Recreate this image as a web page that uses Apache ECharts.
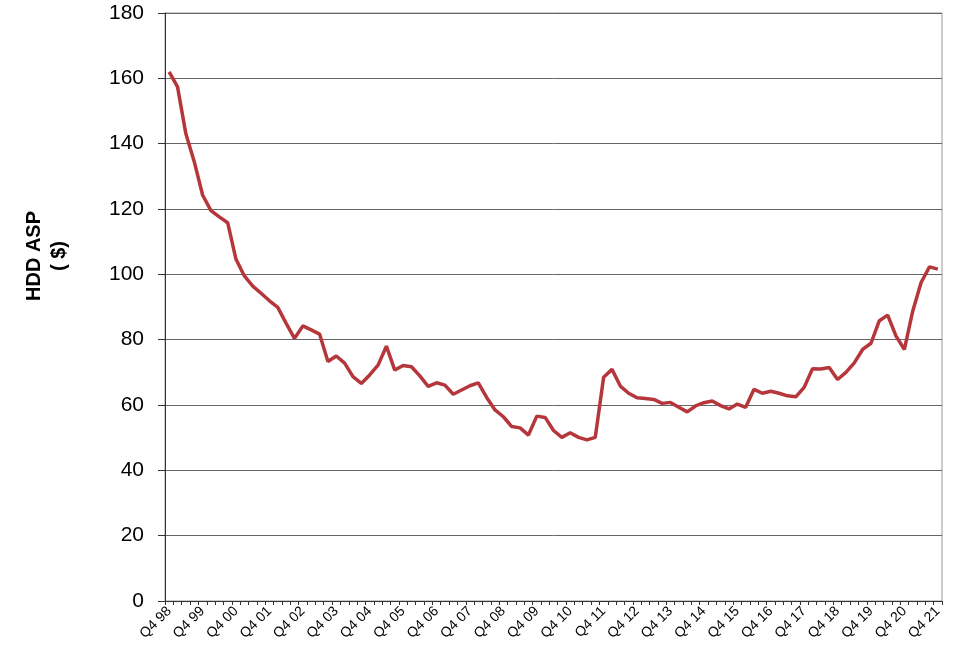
<!DOCTYPE html>
<html>
<head>
<meta charset="utf-8">
<script src="https://cdn.jsdelivr.net/npm/echarts@6/dist/echarts.min.js"></script>
<style>html,body{margin:0;padding:0;background:#fff}#c{width:964px;height:669px}</style>
</head>
<body>
<div id="c"></div>
<script>
// Quarter labels Q4 98 .. Q4 21
const firstYear = 1998, lastYear = 2021;
const categories = [];
for (let y = firstYear; y <= lastYear; y++) {
  const qs = (y === firstYear) ? [4] : [1, 2, 3, 4];
  for (const q of qs) categories.push('Q' + q + ' ' + String(y % 100).padStart(2, '0'));
}
const yTicks = [0, 20, 40, 60, 80, 100, 120, 140, 160, 180];
const asp = [
  162.0, 157.4, 143.0, 134.5, 124.3, 119.5, 117.6, 115.8, 104.6, 99.5,
  96.4, 94.2, 91.9, 89.9, 85.0, 80.4, 84.2, 83.0, 81.7, 73.3,
  75.0, 72.8, 68.7, 66.6, 69.2, 72.2, 78.0, 70.7, 72.1, 71.7,
  68.9, 65.7, 66.8, 66.1, 63.3, 64.6, 65.9, 66.8, 62.3, 58.5,
  56.4, 53.4, 53.0, 50.8, 56.6, 56.2, 52.2, 50.1, 51.5, 50.1,
  49.3, 50.1, 68.5, 70.9, 65.8, 63.6, 62.2, 62.0, 61.7, 60.5,
  60.8, 59.3, 57.9, 59.7, 60.7, 61.2, 59.8, 58.8, 60.3, 59.3,
  64.8, 63.6, 64.2, 63.6, 62.8, 62.5, 65.4, 71.1, 71.0, 71.5,
  67.8, 70.0, 72.9, 77.0, 78.9, 85.8, 87.5, 81.1, 77.0, 88.8,
  97.5, 102.3, 101.6
];
const chart = echarts.init(document.getElementById('c'), null, {renderer: 'canvas'});
chart.setOption({
  animation: false,
  backgroundColor: '#fff',
  grid: {left: 165, right: 22, top: 13, bottom: 68, show: true, borderColor: '#999', borderWidth: 1},
  graphic: [{
    type: 'text', x: 47, y: 256, rotation: Math.PI / 2,
    style: {text: 'HDD ASP\n( $)', font: 'bold 20px "Liberation Sans", Arial, sans-serif', fill: '#000',
      align: 'center', verticalAlign: 'middle', lineHeight: 25}
  }],
  xAxis: {
    type: 'category', data: categories, boundaryGap: true,
    axisLine: {lineStyle: {color: '#333', width: 1}},
    axisTick: {show: true, interval: 0, length: 4, lineStyle: {color: '#333'}},
    axisLabel: {interval: 3, rotate: 45, margin: 8, fontSize: 14, color: '#000',
      fontFamily: '"Liberation Sans", Arial, sans-serif'},
    splitLine: {show: false}
  },
  yAxis: {
    type: 'value', min: yTicks[0], max: yTicks[yTicks.length - 1], interval: 20,
    axisLine: {show: true, lineStyle: {color: '#333', width: 1}},
    axisTick: {show: true, length: 7, lineStyle: {color: '#333'}},
    axisLabel: {margin: 21, fontSize: 21, color: '#000', fontFamily: '"Liberation Sans", Arial, sans-serif'},
    splitLine: {show: true, lineStyle: {color: '#666', width: 1}}
  },
  series: [{
    type: 'line', data: asp, showSymbol: false, symbol: 'none',
    lineStyle: {color: '#B5373B', width: 3.5}, itemStyle: {color: '#B5373B'}
  }]
});
</script>
</body>
</html>
